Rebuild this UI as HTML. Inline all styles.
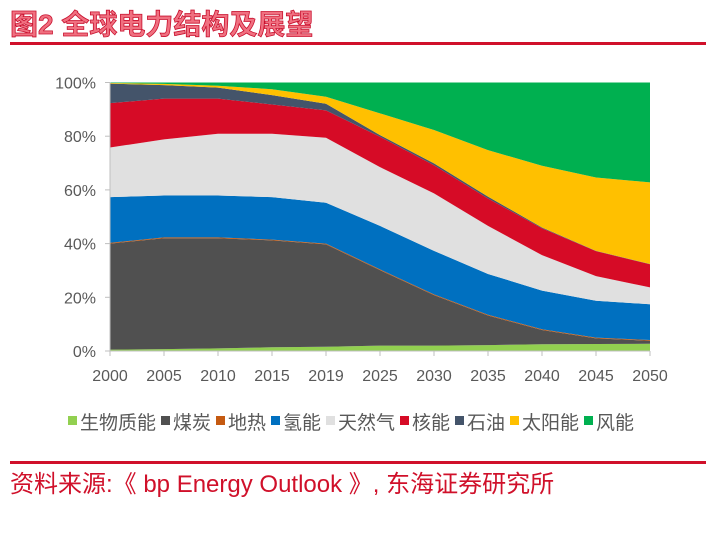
<!DOCTYPE html>
<html><head><meta charset="utf-8"><style>
body{margin:0;background:#fff;width:716px;height:533px;overflow:hidden;font-family:"Liberation Sans","Noto Sans CJK SC",sans-serif;}
</style></head><body>
<svg width="716" height="533" style="position:absolute;left:0;top:0">
<text x="10" y="34" font-size="28" font-weight="bold" fill="#f07080" stroke="#c8102e" stroke-width="0.8" font-family="Liberation Sans,Noto Sans CJK SC,sans-serif">图2  全球电力结构及展望</text>
<rect x="10" y="42" width="696" height="3" fill="#d0102a"/>
<g id="plot"></g>
<g id="legend"></g>
<rect x="10" y="461" width="696" height="3" fill="#d0102a"/>
<text x="10" y="492" font-size="24" fill="#d0102a" font-family="Liberation Sans,Noto Sans CJK SC,sans-serif">资料来源:《 bp Energy Outlook 》, 东海证券研究所</text>
</svg>
<script>
const categories=["2000","2005","2010","2015","2019","2025","2030","2035","2040","2045","2050"];
const seriesNames=["生物质能","煤炭","地热","氢能","天然气","核能","石油","太阳能","风能"];
const colors=["#92d050","#505050","#c55a11","#0070c0","#e0e0e0","#d60b26","#44546a","#ffc000","#00b050"];
const biomass=[0.5,0.7,1,1.4,1.6,2,2,2.2,2.5,2.6,2.7];
const coal=[39.5,41.3,41,39.8,38.1,28.1,18.8,11,5.3,2.1,1.1];
const geothermal=[0.3,0.3,0.3,0.3,0.3,0.3,0.3,0.3,0.3,0.3,0.3];
const hydro=[17,15.6,15.6,15.8,15.2,16.2,16.2,15.2,14.4,13.7,13.3];
const gas=[18.5,20.9,23,23.6,24.2,21.9,21.4,17.9,13.2,9.2,6.3];
const nuclear=[16.5,15.2,13.1,10.9,10.2,11.3,10.5,10.2,10,9.3,8.6];
const oil=[7.3,5,4.1,3.5,2.5,0.6,0.7,0.7,0.3,0.1,0.1];
const solar=[0.2,0.5,0.7,2.2,2.6,8.1,12.4,17.3,23,27.3,30.4];
const wind=[0.2,0.5,1.2,2.5,5.3,11.5,17.7,25.2,31,35.4,37.2];
const yTicks=[0,20,40,60,80,100];
const series=[biomass,coal,geothermal,hydro,gas,nuclear,oil,solar,wind];
const NS="http://www.w3.org/2000/svg";
const X0=110,X1=650,Y0=351,Y1=82.5;
const xS=i=>X0+(X1-X0)*i/(categories.length-1);
const yS=v=>Y0-(Y0-Y1)*v/100;
const plot=document.getElementById('plot');
function mk(t,a,p){const e=document.createElementNS(NS,t);for(const k in a)e.setAttribute(k,a[k]);(p||plot).appendChild(e);return e;}
let base=categories.map(()=>0);
series.forEach((s,si)=>{
  const tops=base.map((b,i)=>b+s[i]);
  let d="M"+categories.map((c,i)=>xS(i)+","+yS(tops[i])).join(" L");
  for(let i=categories.length-1;i>=0;i--)d+=" L"+xS(i)+","+yS(base[i]);
  const p=mk('path',{d:d+"Z",fill:colors[si]});
  
  
  base=tops;
});
const ax=mk('line',{x1:X0,y1:Y0,x2:X1,y2:Y0,stroke:"#bfbfbf","stroke-width":1});


const ay=mk('line',{x1:X0,y1:Y1,x2:X0,y2:Y0,stroke:"#bfbfbf","stroke-width":1});


yTicks.forEach(v=>{
  mk('line',{x1:X0-5,x2:X0,y1:yS(v),y2:yS(v),stroke:"#bfbfbf"});
  const t=mk('text',{x:X0-14,y:yS(v)+6,"text-anchor":"end","font-size":16,fill:"#595959"});
  t.textContent=v+"%";
  
  
});
categories.forEach((c,i)=>{
  mk('line',{x1:xS(i),x2:xS(i),y1:Y0,y2:Y0+5,stroke:"#bfbfbf"});
  const t=mk('text',{x:xS(i),y:381,"text-anchor":"middle","font-size":16,fill:"#595959"});
  t.textContent=c;
  
  
});
const lg=document.getElementById('legend');
let lx=68;
seriesNames.forEach((n,i)=>{
  const r=mk('rect',{x:lx,y:416,width:9,height:9,fill:colors[i]},lg);
  
  
  const t=mk('text',{x:lx+12,y:429,"font-size":19,fill:"#595959"},lg);
  t.textContent=n;
  
  
  lx+=12+n.length*19+5;
});
</script>
</body></html>
